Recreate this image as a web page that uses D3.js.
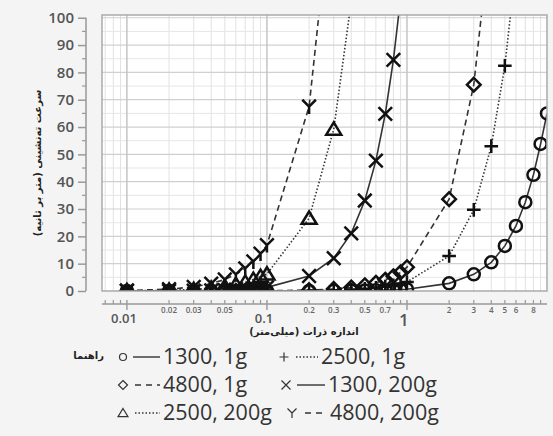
<!DOCTYPE html>
<html>
  <head>
    <meta charset="UTF-8" />
    <title>settling velocity</title>
    <style>
      body { margin: 0; background: #f4f4f4; }
      svg { display: block; }
    </style>
  </head>
  <body>
    <svg></svg>
    <script src="https://d3js.org/d3.v7.min.js"></script>
    <script>
      // particle sizes (mm), shared by all series
      var sizes = [0.01, 0.02, 0.03, 0.04, 0.05, 0.06, 0.07, 0.08, 0.09,
        0.1, 0.2, 0.3, 0.4, 0.5, 0.6, 0.7, 0.8, 0.9,
        1, 2, 3, 4, 5, 6, 7, 8, 9, 10];

      // settling velocity (m/s), one list per series
      var v1300_1g = [0.00007, 0.0003, 0.0006, 0.001, 0.0017, 0.0024, 0.0032, 0.0042, 0.0053,
        0.0066, 0.026, 0.059, 0.11, 0.17, 0.24, 0.32, 0.42, 0.53,
        0.66, 2.8, 6.1, 10.5, 16.5, 23.8, 32.5, 42.5, 53.8, 65];
      var v2500_1g = [0.0003, 0.0013, 0.003, 0.005, 0.008, 0.012, 0.016, 0.021, 0.027,
        0.033, 0.13, 0.3, 0.53, 0.83, 1.2, 1.6, 2.1, 2.7,
        3.3, 12.8, 29.7, 53, 82.4, 119];
      var v4800_1g = [0.0008, 0.0034, 0.0076, 0.013, 0.021, 0.03, 0.041, 0.054, 0.068,
        0.084, 0.34, 0.76, 1.3, 2.1, 3.0, 4.1, 5.4, 6.8,
        8.7, 33.6, 75.5, 134];
      var v1300_200g = [0.013, 0.053, 0.12, 0.21, 0.33, 0.48, 0.65, 0.85, 1.07,
        1.32, 5.5, 12, 21.1, 33.1, 47.7, 64.8, 84.6, 107];
      var v2500_200g = [0.066, 0.26, 0.59, 1.06, 1.65, 2.4, 3.2, 4.2, 5.3,
        6.2, 26.6, 59.2, 106];
      var v4800_200g = [0.17, 0.67, 1.5, 2.7, 4.2, 6.1, 8.3, 10.8, 13.7,
        16.8, 67.5, 152];

      var seriesNames = ["1300, 1g", "2500, 1g", "4800, 1g", "1300, 200g", "2500, 200g", "4800, 200g"];
      var seriesValues = [v1300_1g, v2500_1g, v4800_1g, v1300_200g, v2500_200g, v4800_200g];
      var seriesMarks = ["circle", "plus", "diamond", "cross", "triangle", "wye"];
      var seriesDash = [null, "1.5,2", "6,4", null, "1.5,2", "6,4"];

      var yTicks = [0, 10, 20, 30, 40, 50, 60, 70, 80, 90, 100];
      var bigTicks = [0.01, 0.1, 1];
      var bigLabels = ["0.01", "0.1", "1"];
      var smallTicks = [0.02, 0.03, 0.05, 0.2, 0.3, 0.5, 0.7, 2, 3, 4, 5, 6, 8];
      var smallLabels = ["0.02", "0.03", "0.05", "0.2", "0.3", "0.5", "0.7", "2", "3", "4", "5", "6", "8"];

      var yTitle = "سرعت ته‌نشینی (متر بر ثانیه)";
      var xTitle = "اندازه ذرات (میلی‌متر)";
      var legendTitle = "راهنما";

      var width = 553, height = 436;
      var svg = d3.select("svg").attr("width", width).attr("height", height);

      var plot = { left: 102, right: 547, top: 15, bottom: 291 };
      var x = d3.scaleLog().domain([0.00664, 10]).range([plot.left, plot.right]);
      var y = d3.scaleLinear().domain([0, 101]).range([plot.bottom, plot.top]);

      // marker path, s = half size
      function markPath(type, s) {
        if (type === "circle")
          return "M" + s + ",0A" + s + "," + s + " 0 1,1 " + (-s) + ",0A" + s + "," + s + " 0 1,1 " + s + ",0";
        if (type === "plus") return "M" + (-s) + ",0H" + s + "M0," + (-s) + "V" + s;
        if (type === "cross") return "M" + (-s) + "," + (-s) + "L" + s + "," + s + "M" + (-s) + "," + s + "L" + s + "," + (-s);
        if (type === "diamond") return "M0," + (-s) + "L" + s + ",0L0," + s + "L" + (-s) + ",0Z";
        if (type === "triangle")
          return "M0," + (-s) + "L" + (s * 1.1) + "," + (s * 0.8) + "L" + (-s * 1.1) + "," + (s * 0.8) + "Z";
        // wye
        return "M0,0L" + (-s) + "," + (-s) + "M0,0L" + s + "," + (-s) + "M0,0V" + (s * 1.1);
      }

      svg.append("rect").attr("x", 0).attr("y", 0).attr("width", width).attr("height", height).attr("fill", "#f4f4f4");

      // plot background
      svg.append("rect")
        .attr("x", plot.left).attr("y", plot.top)
        .attr("width", plot.right - plot.left).attr("height", plot.bottom - plot.top)
        .attr("fill", "#ffffff");

      // grid
      var grid = svg.append("g");
      var minorX = [];
      [0.001, 0.01, 0.1, 1].forEach(function (e) {
        for (var k = 2; k <= 9; k++) {
          var v = k * e;
          if (v > x.domain()[0] && v < 10) minorX.push(v);
        }
      });
      grid.selectAll(".mx").data(minorX).enter().append("line")
        .attr("x1", x).attr("x2", x).attr("y1", plot.top).attr("y2", plot.bottom)
        .attr("stroke", "#e2e2e2").attr("stroke-width", 1);
      grid.selectAll(".my").data(d3.range(5, 101, 10)).enter().append("line")
        .attr("x1", plot.left).attr("x2", plot.right).attr("y1", y).attr("y2", y)
        .attr("stroke", "#e6e6e6").attr("stroke-width", 1);
      grid.selectAll(".gy").data(yTicks.slice(1)).enter().append("line")
        .attr("x1", plot.left).attr("x2", plot.right).attr("y1", y).attr("y2", y)
        .attr("stroke", "#d0d0d0").attr("stroke-width", 1.2);
      grid.selectAll(".gx").data(bigTicks).enter().append("line")
        .attr("x1", x).attr("x2", x).attr("y1", plot.top).attr("y2", plot.bottom)
        .attr("stroke", "#c4c4c4").attr("stroke-width", 1.5);

      svg.append("clipPath").attr("id", "clip").append("rect")
        .attr("x", plot.left).attr("y", plot.top)
        .attr("width", plot.right - plot.left).attr("height", plot.bottom - plot.top);

      var data = seriesValues.map(function (vals, i) {
        return vals.map(function (v, j) { return { d: sizes[j], v: v }; });
      });

      var line = d3.line().x(function (p) { return x(p.d); }).y(function (p) { return y(p.v); });

      var layer = svg.append("g").attr("clip-path", "url(#clip)");
      layer.selectAll(".series").data(data).enter().append("path")
        .attr("d", line)
        .attr("fill", "none")
        .attr("stroke", "#333")
        .attr("stroke-width", 1.6)
        .attr("stroke-dasharray", function (d, i) { return seriesDash[i]; });

      data.forEach(function (pts, i) {
        layer.selectAll(".m" + i).data(pts).enter().append("path")
          .attr("transform", function (p) { return "translate(" + x(p.d) + "," + y(p.v) + ")"; })
          .attr("d", markPath(seriesMarks[i], seriesMarks[i] === "circle" ? 6 : 6.8))
          .attr("fill", "none")
          .attr("stroke", "#111")
          .attr("stroke-width", 2.5);
      });

      // frame
      svg.append("rect")
        .attr("x", plot.left).attr("y", plot.top)
        .attr("width", plot.right - plot.left).attr("height", plot.bottom - plot.top)
        .attr("fill", "none").attr("stroke", "#aaa").attr("stroke-width", 1.5);

      // y axis
      var yAxis = svg.append("g").attr("transform", "translate(86,0)")
        .call(d3.axisLeft(y).tickValues(yTicks).tickSize(8).tickPadding(4));
      yAxis.select(".domain").attr("stroke", "#999").attr("stroke-width", 1.5).attr("d", "M0," + y(100) + "V" + y(0));
      yAxis.selectAll(".tick line").attr("stroke", "#999").attr("stroke-width", 1.5);
      yAxis.selectAll(".tick text")
        .attr("fill", "#555").style("font", "600 15px 'Open Sans', sans-serif");
      yAxis.selectAll(".ym").data(d3.range(5, 100, 10)).enter().append("line")
        .attr("x1", -4).attr("x2", 0).attr("y1", y).attr("y2", y)
        .attr("stroke", "#999").attr("stroke-width", 1.2);

      // x axis
      var xa = svg.append("g");
      var axY = 304;
      xa.append("line").attr("x1", plot.left).attr("x2", plot.right).attr("y1", axY).attr("y2", axY)
        .attr("stroke", "#999").attr("stroke-width", 1.5);
      xa.selectAll(".xm").data(minorX).enter().append("line")
        .attr("x1", x).attr("x2", x).attr("y1", axY - 4).attr("y2", axY)
        .attr("stroke", "#999").attr("stroke-width", 1.2);
      xa.selectAll(".xM").data(bigTicks).enter().append("line")
        .attr("x1", x).attr("x2", x).attr("y1", axY - 4).attr("y2", axY + 6)
        .attr("stroke", "#999").attr("stroke-width", 1.4);
      xa.selectAll(".xs").data(smallTicks).enter().append("text")
        .attr("x", x).attr("y", axY + 9)
        .attr("text-anchor", "middle")
        .attr("fill", "#666")
        .style("font", "600 8px 'Open Sans', sans-serif")
        .text(function (d, i) { return smallLabels[i]; });
      xa.selectAll(".xb").data(bigTicks).enter().append("text")
        .attr("x", function (d) { return x(d) - 3; }).attr("y", function (d, i) { return i === 2 ? axY + 22 : axY + 19; })
        .attr("text-anchor", "middle")
        .attr("fill", "#555")
        .style("font", function (d, i) { return i === 2 ? "600 17px 'Open Sans', sans-serif" : "600 13px 'Open Sans', sans-serif"; })
        .text(function (d, i) { return bigLabels[i]; });

      // titles
      svg.append("text")
        .attr("transform", "translate(41,163) rotate(-90)")
        .attr("text-anchor", "middle")
        .attr("fill", "#222")
        .style("font", "bold 10px 'DejaVu Sans', sans-serif")
        .text(yTitle);
      svg.append("text")
        .attr("x", 304).attr("y", 335)
        .attr("text-anchor", "middle")
        .attr("fill", "#222")
        .style("font", "bold 10px 'DejaVu Sans', sans-serif")
        .text(xTitle);

      // legend
      var legend = svg.append("g");
      legend.append("text")
        .attr("x", 104).attr("y", 359)
        .attr("text-anchor", "end")
        .attr("fill", "#222")
        .style("font", "bold 10px 'DejaVu Sans', sans-serif")
        .text(legendTitle);
      var legendPos = [[123, 357], [284, 357], [123, 385], [286, 385], [123, 413], [292, 413]];
      var legendLine = [[133, 160], [296, 318], [135, 160], [297, 325], [135, 160], [305, 327]];
      seriesNames.forEach(function (name, i) {
        var p = legendPos[i];
        legend.append("path")
          .attr("transform", "translate(" + p[0] + "," + p[1] + ")")
          .attr("d", markPath(seriesMarks[i], seriesMarks[i] === "circle" ? 3.5 : 4.5))
          .attr("fill", "none").attr("stroke", "#333").attr("stroke-width", 1.2);
        legend.append("line")
          .attr("x1", legendLine[i][0]).attr("x2", legendLine[i][1])
          .attr("y1", p[1]).attr("y2", p[1])
          .attr("stroke", "#333").attr("stroke-width", 1.4)
          .attr("stroke-dasharray", seriesDash[i] ? (seriesDash[i] === "6,4" ? "6,5" : "1.5,2") : null);
        legend.append("text")
          .attr("x", legendLine[i][1] + 3).attr("y", p[1] + 7)
          .attr("fill", "#333")
          .style("font", "21.5px 'Open Sans', sans-serif")
          .text(name);
      });
    </script>
  </body>
</html>
